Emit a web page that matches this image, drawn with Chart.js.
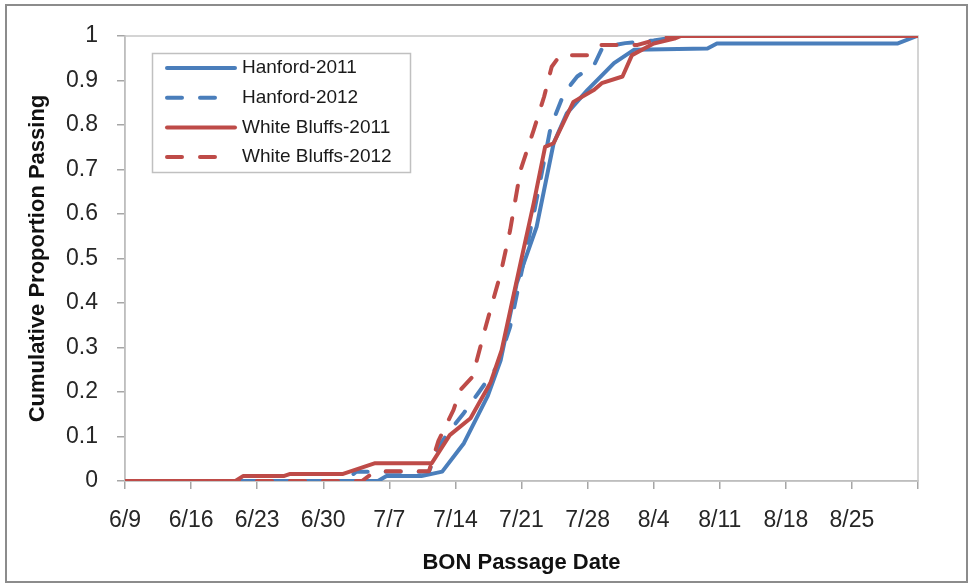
<!DOCTYPE html>
<html>
<head>
<meta charset="utf-8">
<script src="https://cdn.jsdelivr.net/npm/chart.js@4.4.1/dist/chart.umd.min.js"></script>
<style>
  body { margin: 0; background: #fff; }
  canvas { display: block; }
</style>
</head>
<body>
<canvas id="passageChart" width="969" height="584"></canvas>
<script>
/*
  Data: x = days after 6/9, y = cumulative proportion passing
*/
var hanford2011Days = [0, 26.8, 27.7, 31.4, 33.6, 35.9, 38.4, 39.8, 41.5, 43.6, 45.4, 46.8, 49, 51.8, 53.9, 61.7, 62.7, 81.8, 83.9]
var hanford2011Prop = [0, 0, 0.011, 0.011, 0.021, 0.085, 0.19, 0.272, 0.445, 0.571, 0.759, 0.826, 0.879, 0.939, 0.969, 0.972, 0.983, 0.983, 1]

var hanford2012Days = [0, 23.3, 24.5, 32.2, 33.3, 34.3, 35.9, 37.5, 39.4, 40.8, 41.9, 43.3, 45.1, 46.5, 47.9, 49.7, 50.6, 53, 56, 59, 84]
var hanford2012Prop = [0, 0, 0.021, 0.021, 0.08, 0.11, 0.153, 0.2, 0.257, 0.347, 0.459, 0.6, 0.796, 0.871, 0.909, 0.935, 0.975, 0.984, 0.99, 1, 1]

var whiteBluffs2011Days = [0, 11.7, 12.5, 16.8, 17.5, 23.1, 26.5, 32.5, 34.4, 36.6, 38.7, 39.9, 41.9, 43.3, 44.5, 45.4, 47.5, 49.7, 50.5, 52.7, 53.7, 56, 58.2, 58.9, 84]
var whiteBluffs2011Prop = [0, 0, 0.011, 0.011, 0.016, 0.016, 0.04, 0.04, 0.103, 0.141, 0.22, 0.294, 0.49, 0.625, 0.751, 0.759, 0.852, 0.879, 0.894, 0.909, 0.957, 0.983, 0.994, 1, 1]

var whiteBluffs2012Days = [0, 25.1, 26.5, 32.2, 33.2, 34.8, 35.5, 36.8, 38.3, 39.8, 40.8, 41.9, 43.3, 44.4, 45.2, 46.1, 49, 50.4, 54.3, 56, 58.2, 84]
var whiteBluffs2012Prop = [0, 0, 0.022, 0.022, 0.09, 0.16, 0.204, 0.234, 0.354, 0.467, 0.564, 0.699, 0.789, 0.864, 0.931, 0.957, 0.957, 0.98, 0.98, 0.99, 1, 1]

var seriesNames = ['Hanford-2011', 'Hanford-2012', 'White Bluffs-2011', 'White Bluffs-2012']
var xTickLabels = ['6/9', '6/16', '6/23', '6/30', '7/7', '7/14', '7/21', '7/28', '8/4', '8/11', '8/18', '8/25', '']
var yTickLabels = ['0', '0.1', '0.2', '0.3', '0.4', '0.5', '0.6', '0.7', '0.8', '0.9', '1']

var blue = '#4a7ebb';
var red = '#be4b48';
var dashed = [15, 18];
var fontName = '"Liberation Sans", Arial, sans-serif';

var toPoints = (days, props) => days.map((d, i) => ({x: d, y: props[i]}))

/*
  Outer frame, plot frame and legend box
*/
var framePlugin = {
  id: 'framePlugin',
  beforeDatasetsDraw(chart) {
    var ctx = chart.ctx;
    var a = chart.chartArea;
    ctx.save();
    ctx.strokeStyle = '#c6c6c6';
    ctx.lineWidth = 1.5;
    ctx.strokeRect(a.left, a.top, a.right - a.left, a.bottom - a.top);
    ctx.restore();
  },
  afterDraw(chart) {
    var ctx = chart.ctx;
    ctx.save();
    ctx.strokeStyle = '#8c8c8c';
    ctx.lineWidth = 2;
    ctx.strokeRect(6, 5, 961, 577);
    ctx.restore();
  }
}

var legendPlugin = {
  id: 'legendPlugin',
  afterDraw(chart) {
    var ctx = chart.ctx;
    ctx.save();
    ctx.fillStyle = '#fff';
    ctx.fillRect(152, 53, 258, 119);
    ctx.strokeStyle = '#c0c0c0';
    ctx.lineWidth = 1.5;
    ctx.strokeRect(152.5, 53.5, 258, 119);
    chart.data.datasets.forEach((ds, i) => {
      var y = 68 + i * 29.7;
      ctx.beginPath();
      ctx.strokeStyle = ds.borderColor;
      ctx.lineWidth = ds.borderWidth;
      ctx.lineCap = 'round';
      ctx.setLineDash(ds.borderDash || []);
      ctx.moveTo(167, y);
      ctx.lineTo(ds.borderDash ? 217 : 235, y);
      ctx.stroke();
      ctx.setLineDash([]);
      ctx.fillStyle = '#1a1a1a';
      ctx.font = '19px ' + fontName;
      ctx.textBaseline = 'middle';
      ctx.fillText(ds.label, 242, y);
    });
    ctx.restore();
  }
}

var ctx = document.getElementById('passageChart');

var passageChart = new Chart(ctx, {
  type: 'line',
  data: {
    datasets: [{
      label: seriesNames[0],
      data: toPoints(hanford2011Days, hanford2011Prop),
      borderColor: blue,
      borderWidth: 4,
      order: 4
    }, {
      label: seriesNames[1],
      data: toPoints(hanford2012Days, hanford2012Prop),
      borderColor: blue,
      borderWidth: 4,
      borderDash: dashed,
      order: 3
    }, {
      label: seriesNames[2],
      data: toPoints(whiteBluffs2011Days, whiteBluffs2011Prop),
      borderColor: red,
      borderWidth: 4,
      order: 2
    }, {
      label: seriesNames[3],
      data: toPoints(whiteBluffs2012Days, whiteBluffs2012Prop),
      borderColor: red,
      borderWidth: 4,
      borderDash: dashed,
      order: 1
    }]
  },
  options: {
    responsive: false,
    animation: false,
    layout: {
      padding: {left: 0, right: 51, top: 36, bottom: 0}
    },
    elements: {
      point: {radius: 0},
      line: {tension: 0, borderCapStyle: 'round', borderJoinStyle: 'round', fill: false}
    },
    plugins: {
      legend: {display: false},
      tooltip: {enabled: false}
    },
    scales: {
      x: {
        type: 'linear',
        min: 0,
        max: 84,
        afterFit: (s) => { s.height = 103 },
        grid: {drawOnChartArea: false, tickLength: 8, color: '#a6a6a6', lineWidth: 1.5},
        border: {color: '#a6a6a6', width: 1.5},
        ticks: {
          stepSize: 7,
          autoSkip: false,
          maxRotation: 0,
          padding: 18,
          color: '#262626',
          font: {family: fontName, size: 23},
          callback: (v) => xTickLabels[Math.round(v / 7)]
        },
        title: {
          display: true,
          text: 'BON Passage Date',
          color: '#111',
          font: {family: fontName, size: 22, weight: 'bold'},
          padding: {top: 0, bottom: 8}
        }
      },
      y: {
        min: 0,
        max: 1,
        afterFit: (s) => { s.width = 125 },
        grid: {drawOnChartArea: false, tickLength: 8, color: '#a6a6a6', lineWidth: 1.5},
        border: {color: '#a6a6a6', width: 1.5},
        ticks: {
          stepSize: 0.1,
          padding: 19,
          color: '#262626',
          font: {family: fontName, size: 23},
          callback: (v) => yTickLabels[Math.round(v * 10)]
        },
        title: {
          display: true,
          text: 'Cumulative Proportion Passing',
          color: '#111',
          font: {family: fontName, size: 22, weight: 'bold'},
          padding: {top: 25, bottom: 0}
        }
      }
    }
  },
  plugins: [framePlugin, legendPlugin]
})
</script>
</body>
</html>
